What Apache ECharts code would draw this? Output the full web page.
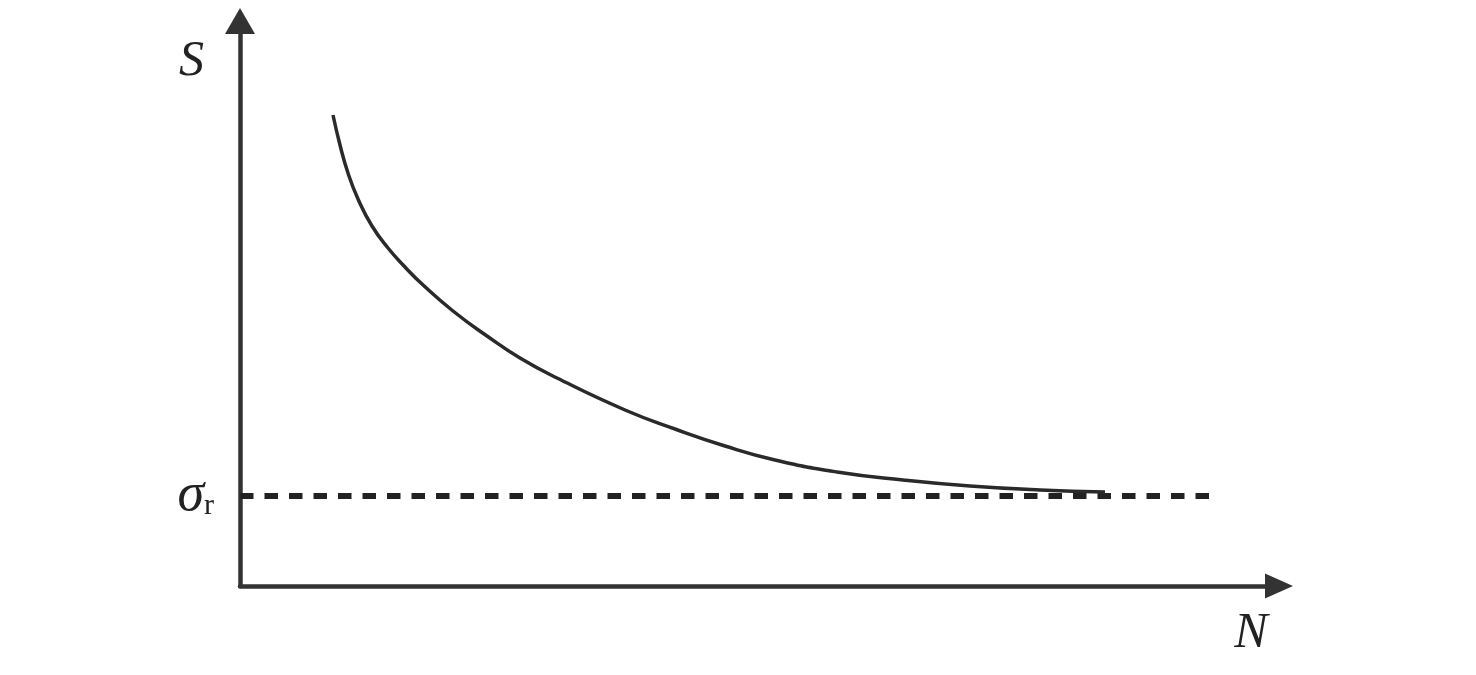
<!DOCTYPE html>
<html>
<head>
<meta charset="utf-8">
<script src="https://cdn.jsdelivr.net/npm/echarts@6/dist/echarts.min.js"></script>
<style>
  html, body { margin: 0; padding: 0; background: #fff; }
  #chart { width: 1476px; height: 675px; }
</style>
</head>
<body>
<div id="chart"></div>
<script>
// 曲线数据 (N, S)，示意图单位
const curveN = [93, 100, 108, 118, 132, 148, 165, 182, 213, 247, 280, 317, 385, 435, 485, 535, 597, 663, 730, 800, 865];
const curveS = [471, 441, 413, 387, 360, 338, 319, 302, 275, 250, 228, 208, 176, 157, 140, 126, 114, 106, 100, 96, 94];

// 残余值 σr 的水平虚线
const sigmaR = 90;
const dashN = [0, 972];

// 坐标轴范围与 N 标签位置
const axisMax = { n: 1039, s: 565 };
const nLabelAt = 1011;

const chart = echarts.init(document.getElementById('chart'));
const axisColor = '#333';
const serif = '"Liberation Serif", "DejaVu Serif", serif';

const option = {
  animation: false,
  grid: { left: 240, right: 197, top: 21, bottom: 89 },
  xAxis: {
    type: 'value',
    min: 0,
    max: axisMax.n,
    axisLine: {
      show: true,
      symbol: ['none', 'triangle'],
      symbolSize: [25, 28],
      lineStyle: { color: axisColor, width: 4.5 }
    },
    axisTick: { show: false },
    splitLine: { show: false },
    axisLabel: {
      show: true,
      customValues: [nLabelAt],
      margin: 23,
      formatter: () => 'N',
      fontFamily: serif,
      fontStyle: 'italic',
      fontSize: 50,
      lineHeight: 50,
      color: '#222'
    }
  },
  yAxis: {
    type: 'value',
    min: 0,
    max: axisMax.s,
    name: 'S',
    nameLocation: 'end',
    nameGap: -41,
    nameTextStyle: {
      fontFamily: serif, fontStyle: 'italic', fontSize: 50, color: '#222',
      align: 'right', verticalAlign: 'middle', padding: [0, 36, 0, 0]
    },
    axisLine: {
      show: true,
      symbol: ['none', 'triangle'],
      symbolSize: [30, 26],
      lineStyle: { color: axisColor, width: 4.5 }
    },
    axisTick: { show: false },
    splitLine: { show: false },
    axisLabel: {
      show: true,
      customValues: [sigmaR],
      margin: 26,
      formatter: () => '{s|σ}{r|r}',
      rich: {
        s: { fontFamily: serif, fontStyle: 'italic', fontSize: 54, color: '#222' },
        r: { fontFamily: serif, fontSize: 30, color: '#222', padding: [20, 0, 0, 0] }
      }
    }
  },
  series: [
    {
      type: 'line',
      data: dashN.map(n => [n, sigmaR]),
      symbol: 'none',
      lineStyle: { color: '#222', width: 6, type: [13.5, 11] },
      z: 2
    },
    {
      type: 'line',
      data: curveN.map((n, i) => [n, curveS[i]]),
      smooth: 0.5,
      symbol: 'none',
      lineStyle: { color: '#2a2a2a', width: 3.5 },
      z: 3
    }
  ]
};

chart.setOption(option);
</script>
</body>
</html>
